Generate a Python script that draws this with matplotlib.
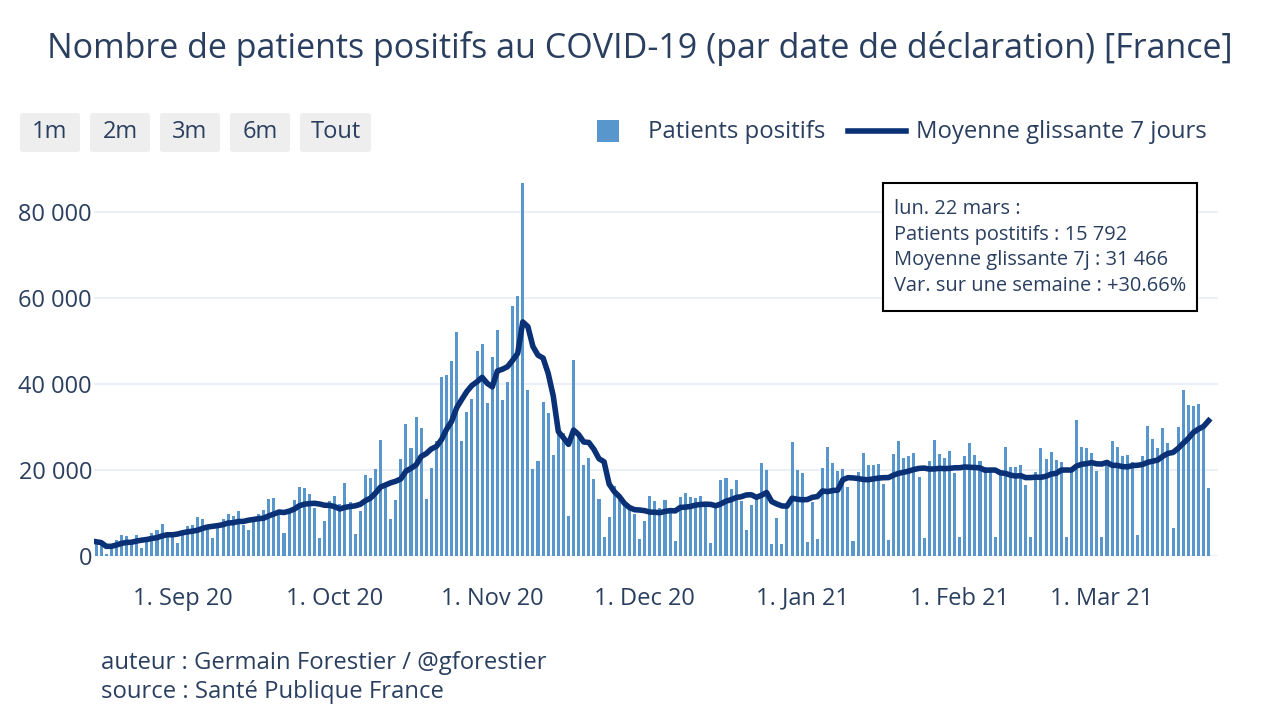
import numpy as np
import pandas as pd
import matplotlib
matplotlib.use("Agg")
import matplotlib.pyplot as plt
import matplotlib.dates as mdates
from matplotlib.patches import FancyBboxPatch, Rectangle
from matplotlib.lines import Line2D

plt.rcParams['font.family'] = ['Open Sans', 'DejaVu Sans']

# daily positive cases by declaration date, 15 Aug 2020 -> 22 Mar 2021
start = '2020-08-15'
aug_2020 = [3310, 2946, 493, 2238, 3776, 4771, 4586, 3602, 4897, 1955, 3304, 5429,
            6111, 7379, 5453, 4897, 3082]
sep_2020 = [5413, 7017, 7157, 8975, 8550, 7071, 4203, 6544, 8577, 9843, 9406, 10561,
            7183, 6158, 7852, 9784, 10593, 13215, 13498, 10569, 5298, 10008, 13072,
            16096, 15797, 14412, 11123, 4070, 8051, 12845]
oct_2020 = [13970, 12148, 16972, 12565, 5084, 10489, 18746, 18129, 20339, 26896, 16101,
            8505, 12993, 22591, 30621, 25086, 32427, 29837, 13243, 20468, 26676, 41622,
            42032, 45422, 52010, 26771, 33417, 36437, 47637, 49215, 35641]
nov_2020 = [46290, 52518, 36330, 40558, 58046, 60486, 86852, 38619, 20155, 22180, 35879,
            33172, 23600, 29000, 28500, 9406, 45522, 28383, 21150, 22882, 17881, 13157,
            4452, 9155, 16282, 13000, 11900, 10900, 9700, 3900]
dec_2020 = [8083, 14064, 12696, 11221, 12923, 11022, 3411, 13713, 14595, 13750, 13406,
            13947, 11533, 3063, 11532, 17615, 18254, 15674, 17565, 12799, 5960, 11795,
            13500, 21600, 20100, 2900, 8822, 2800, 11395, 26457, 19927]
jan_2021 = [19200, 3300, 12489, 4022, 20489, 25379, 21703, 19814, 20177, 15944, 3582,
            19534, 23852, 21228, 21271, 21406, 16642, 3736, 23608, 26784, 22848, 23292,
            23924, 18436, 4240, 22086, 26916, 23770, 22858, 24392, 19348]
feb_2021 = [4347, 23337, 26362, 23448, 22139, 20586, 19715, 4317, 18870, 25387, 20701,
            20586, 21231, 16546, 4376, 19590, 25018, 22501, 24116, 22371, 21900, 4500,
            19500, 31519, 25403, 25207, 23996, 19800]
mar_2021 = [4400, 22046, 26788, 25279, 23306, 23507, 21825, 4943, 23302, 30303, 27166,
            25229, 29759, 26343, 6471, 29975, 38501, 35088, 34998, 35327, 30581, 15792]

positifs = aug_2020 + sep_2020 + oct_2020 + nov_2020 + dec_2020 + jan_2021 + feb_2021 + mar_2021
dates = pd.date_range(start, periods=len(positifs), freq='D')
serie = pd.Series(positifs, index=dates)
moyenne = serie.rolling(7, min_periods=1).mean()

boutons = ['1m', '2m', '3m', '6m', 'Tout']
jours = ['lun.', 'mar.', 'mer.', 'jeu.', 'ven.', 'sam.', 'dim.']
mois = ['janv.', 'févr.', 'mars', 'avr.', 'mai', 'juin', 'juil.', 'août', 'sept.',
        'oct.', 'nov.', 'déc.']

TXT = '#2a3f5f'
BAR = '#5896cc'
LINE = '#0a3075'
GRID = '#ebf0f8'

W, H = 1280, 720
def fx(px):
    return px / W
def fy(py):
    return 1 - py / H

fig = plt.figure(figsize=(12.8, 7.2), dpi=100)
ax = fig.add_axes([fx(93.5), fy(556), (1218 - 93.5) / W, (556 - 163) / H])

xs = mdates.date2num(dates.to_pydatetime())
ax.bar(xs, serie.values, width=0.6, color=BAR, zorder=2)
ax.plot(xs, moyenne.values, color=LINE, lw=4.0, zorder=3, solid_joinstyle='round')

ax.set_xlim(xs[0] - 0.5, xs[-1] + 1.85)
ax.set_ylim(0, 91400)

yt = [0, 20000, 40000, 60000, 80000]
ax.set_yticks(yt)
ax.set_yticklabels([f"{v:,}".replace(',', ' ') for v in yt])
debuts = pd.date_range('2020-09-01', '2021-03-01', freq='MS')
ax.set_xticks(mdates.date2num(debuts.to_pydatetime()))
ax.set_xticklabels([d.strftime('1. %b %y') for d in debuts])
ax.tick_params(length=0, labelsize=17, labelcolor=TXT)
ax.tick_params(axis='y', pad=1)
ax.tick_params(axis='x', pad=22)
ax.yaxis.grid(True, color=GRID, lw=1.5, zorder=0)
ax.axhline(0, color=GRID, lw=2, zorder=1)
ax.set_axisbelow(True)
for s in ax.spines.values():
    s.set_visible(False)

# title
fig.text(0.5, fy(48), "Nombre de patients positifs au COVID-19 (par date de déclaration) [France]",
         ha='center', va='center', fontsize=24.5, color=TXT)

# range selector buttons
largeurs = [60, 60, 60, 60, 71]
x0 = 20
for lab, w in zip(boutons, largeurs):
    fig.patches.append(FancyBboxPatch((fx(x0), fy(152)), w / W, 39 / H,
                                      boxstyle='round,pad=0,rounding_size=0.003',
                                      transform=fig.transFigure, fc='#eeeeee', ec='none'))
    fig.text(fx(x0 + w / 2), fy(132), lab, ha='center', va='center', fontsize=17, color=TXT)
    x0 += w + 10

# legend
fig.patches.append(Rectangle((fx(597), fy(142)), 22 / W, 22 / H, transform=fig.transFigure,
                             fc=BAR, ec='none'))
fig.text(fx(648), fy(132), 'Patients positifs', ha='left', va='center', fontsize=17.2, color=TXT)
fig.lines.append(Line2D([fx(848), fx(906)], [fy(131), fy(131)], transform=fig.transFigure,
                        color=LINE, lw=4.0))
fig.text(fx(916), fy(132), 'Moyenne glissante 7 jours', ha='left', va='center',
         fontsize=17.2, color=TXT)

# info box for the last day
der = dates[-1]
var = (moyenne.iloc[-1] / moyenne.iloc[-8] - 1) * 100
lignes = [f"{jours[der.weekday()]} {der.day} {mois[der.month - 1]} :",
          f"Patients postitifs : {serie.iloc[-1]:,}".replace(',', ' '),
          f"Moyenne glissante 7j : {moyenne.iloc[-1]:,.0f}".replace(',', ' '),
          f"Var. sur une semaine : {var:+.2f}%"]
fig.patches.append(Rectangle((fx(883), fy(311)), (1197 - 883) / W, (311 - 183) / H,
                             transform=fig.transFigure, fc='white', ec='black', lw=1.5,
                             zorder=5))
for k, l in enumerate(lignes):
    fig.text(fx(894), fy(209 + 25.7 * k), l, ha='left', va='center', fontsize=14.4,
             color=TXT, zorder=6)

# footer
fig.text(fx(101), fy(663), 'auteur : Germain Forestier / @gforestier', ha='left',
         va='center', fontsize=17.2, color=TXT)
fig.text(fx(101), fy(692), 'source : Santé Publique France', ha='left', va='center',
         fontsize=17.2, color=TXT)

fig.savefig('out.png', dpi=100, facecolor='white')
